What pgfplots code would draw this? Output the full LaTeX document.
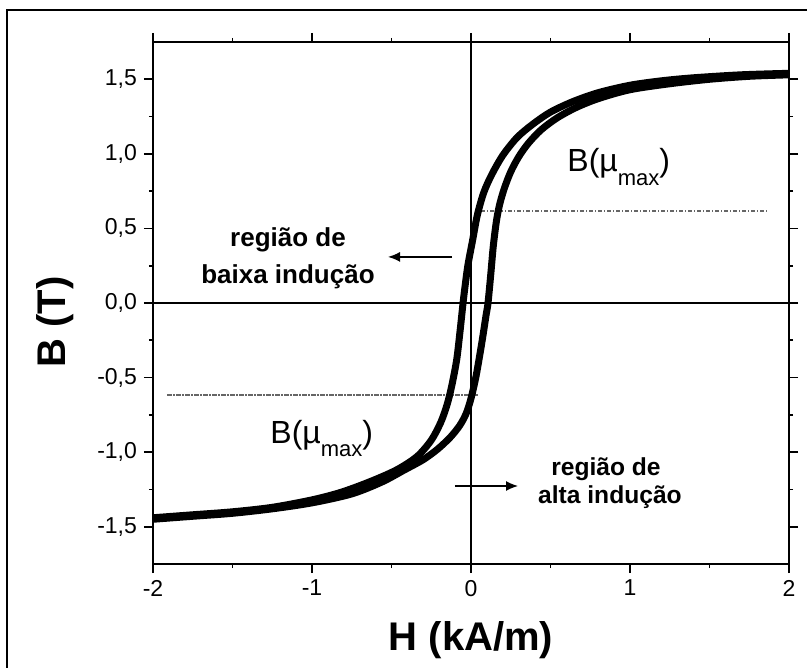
\documentclass[border=0pt]{standalone}
\usepackage{pgfplots}
\pgfplotsset{compat=1.18}
\usepackage{fontspec}
\setmainfont{Liberation Sans}
\usetikzlibrary{arrows.meta}

\begin{document}
\begin{tikzpicture}
  \path[use as bounding box] (-76.5pt,-52pt) rectangle (327pt,282pt);
  % outer frame (cut at right and bottom as in the scan)
  \draw[line width=1pt] (-73pt,-60pt) -- (-73pt,277pt) -- (335pt,277pt);
  \begin{axis}[
      at={(0pt,0pt)}, anchor=south west,
      scale only axis, width=318pt, height=261pt,
      xmin=-2, xmax=2, ymin=-1.75, ymax=1.75,
      xtick={-2,-1,0,1,2}, ytick={-1.5,-1,-0.5,0,0.5,1,1.5},
      minor x tick num=1, minor y tick num=1,
      tick align=outside, major tick length=4.5pt, minor tick length=2pt,
      axis line style={line width=0.9pt},
      every tick/.style={line width=0.9pt, black},
      ticklabel style={font=\fontsize{11.5}{13}\selectfont},
      /pgf/number format/assume math mode=true,
      yticklabel style={/pgf/number format/.cd, fixed, fixed zerofill, precision=1, use comma},
      xlabel={H (kA/m)}, ylabel={B (T)},
      label style={font=\fontsize{20}{24}\selectfont\bfseries},
      xlabel style={at={(axis description cs:0.5,-0.146)}, anchor=center},
      ylabel style={at={(axis description cs:-0.154,0.464)}, anchor=center},
    ]
    % zero lines
    \draw[line width=0.8pt] (axis cs:-2,0) -- (axis cs:2,0);
    \draw[line width=0.8pt] (axis cs:0,-1.75) -- (axis cs:0,1.75);

    % B(mu_max) levels
    \addplot[black!60, line width=1pt, dash pattern=on 2.2pt off 0.8pt on 0.7pt off 0.8pt]
      coordinates {(0.063,0.62) (1.87,0.62)};
    \addplot[black!60, line width=1pt, dash pattern=on 2.2pt off 0.8pt on 0.7pt off 0.8pt]
      coordinates {(-1.91,-0.617) (0.05,-0.617)};

    % descending branch
    \addplot[black, line width=3.5pt, smooth] coordinates {
      (2.00,1.54) (1.70,1.53) (1.40,1.51) (1.20,1.49) (1.00,1.46) (0.80,1.41)
      (0.64,1.35) (0.50,1.28) (0.39,1.20) (0.29,1.11) (0.20,0.99) (0.13,0.86)
      (0.08,0.74) (0.04,0.59) (0.01,0.42) (-0.02,0.25) (-0.04,0.09) (-0.05,0.00)
      (-0.07,-0.20) (-0.09,-0.38) (-0.12,-0.55) (-0.15,-0.68) (-0.19,-0.80)
      (-0.25,-0.92) (-0.34,-1.03) (-0.47,-1.12) (-0.64,-1.20) (-0.82,-1.27)
      (-1.00,-1.32) (-1.25,-1.37) (-1.50,-1.40) (-1.75,-1.42) (-2.00,-1.44)
    };
    % ascending branch
    \addplot[black, line width=3.5pt, smooth] coordinates {
      (-2.00,-1.45) (-1.75,-1.43) (-1.50,-1.41) (-1.25,-1.38) (-1.00,-1.34)
      (-0.75,-1.28) (-0.56,-1.20) (-0.42,-1.12) (-0.30,-1.05) (-0.21,-0.98)
      (-0.13,-0.90) (-0.07,-0.82) (-0.03,-0.74) (0.00,-0.64) (0.03,-0.50)
      (0.055,-0.35) (0.075,-0.22) (0.095,-0.08) (0.107,0.00) (0.125,0.20)
      (0.14,0.38) (0.16,0.55) (0.18,0.66) (0.21,0.77) (0.25,0.88) (0.30,0.98)
      (0.36,1.07) (0.44,1.16) (0.54,1.24) (0.66,1.31) (0.80,1.37) (1.00,1.43)
      (1.25,1.47) (1.50,1.50) (1.75,1.52) (2.00,1.53)
    };

    % annotations
    \node[anchor=base, font=\fontsize{13}{15}\selectfont\bfseries] at (axis cs:-1.151,0.378) {região de};
    \node[anchor=base, font=\fontsize{13}{15}\selectfont\bfseries] at (axis cs:-1.151,0.134) {baixa indução};
    \draw[-{Latex[length=6pt,width=5pt]}, line width=0.8pt] (axis cs:-0.119,0.309) -- (axis cs:-0.522,0.309);

    \node[anchor=base, font=\fontsize{12.3}{14}\selectfont\bfseries] at (axis cs:0.849,-1.154) {região de};
    \node[anchor=base, font=\fontsize{12.3}{14}\selectfont\bfseries] at (axis cs:0.874,-1.341) {alta indução};
    \draw[-{Latex[length=6pt,width=5pt]}, line width=0.8pt] (axis cs:-0.101,-1.227) -- (axis cs:0.296,-1.227);

    \node[anchor=base west, inner sep=0pt, font=\fontsize{16}{18}\selectfont] at (axis cs:0.604,0.881)
      {B(µ\raisebox{-6.7pt}{\fontsize{11}{12}\selectfont max})};
    \node[anchor=base west, inner sep=0pt, font=\fontsize{16}{18}\selectfont] at (axis cs:-1.264,-0.939)
      {B(µ\raisebox{-6.7pt}{\fontsize{11}{12}\selectfont max})};
  \end{axis}
\end{tikzpicture}
\end{document}
